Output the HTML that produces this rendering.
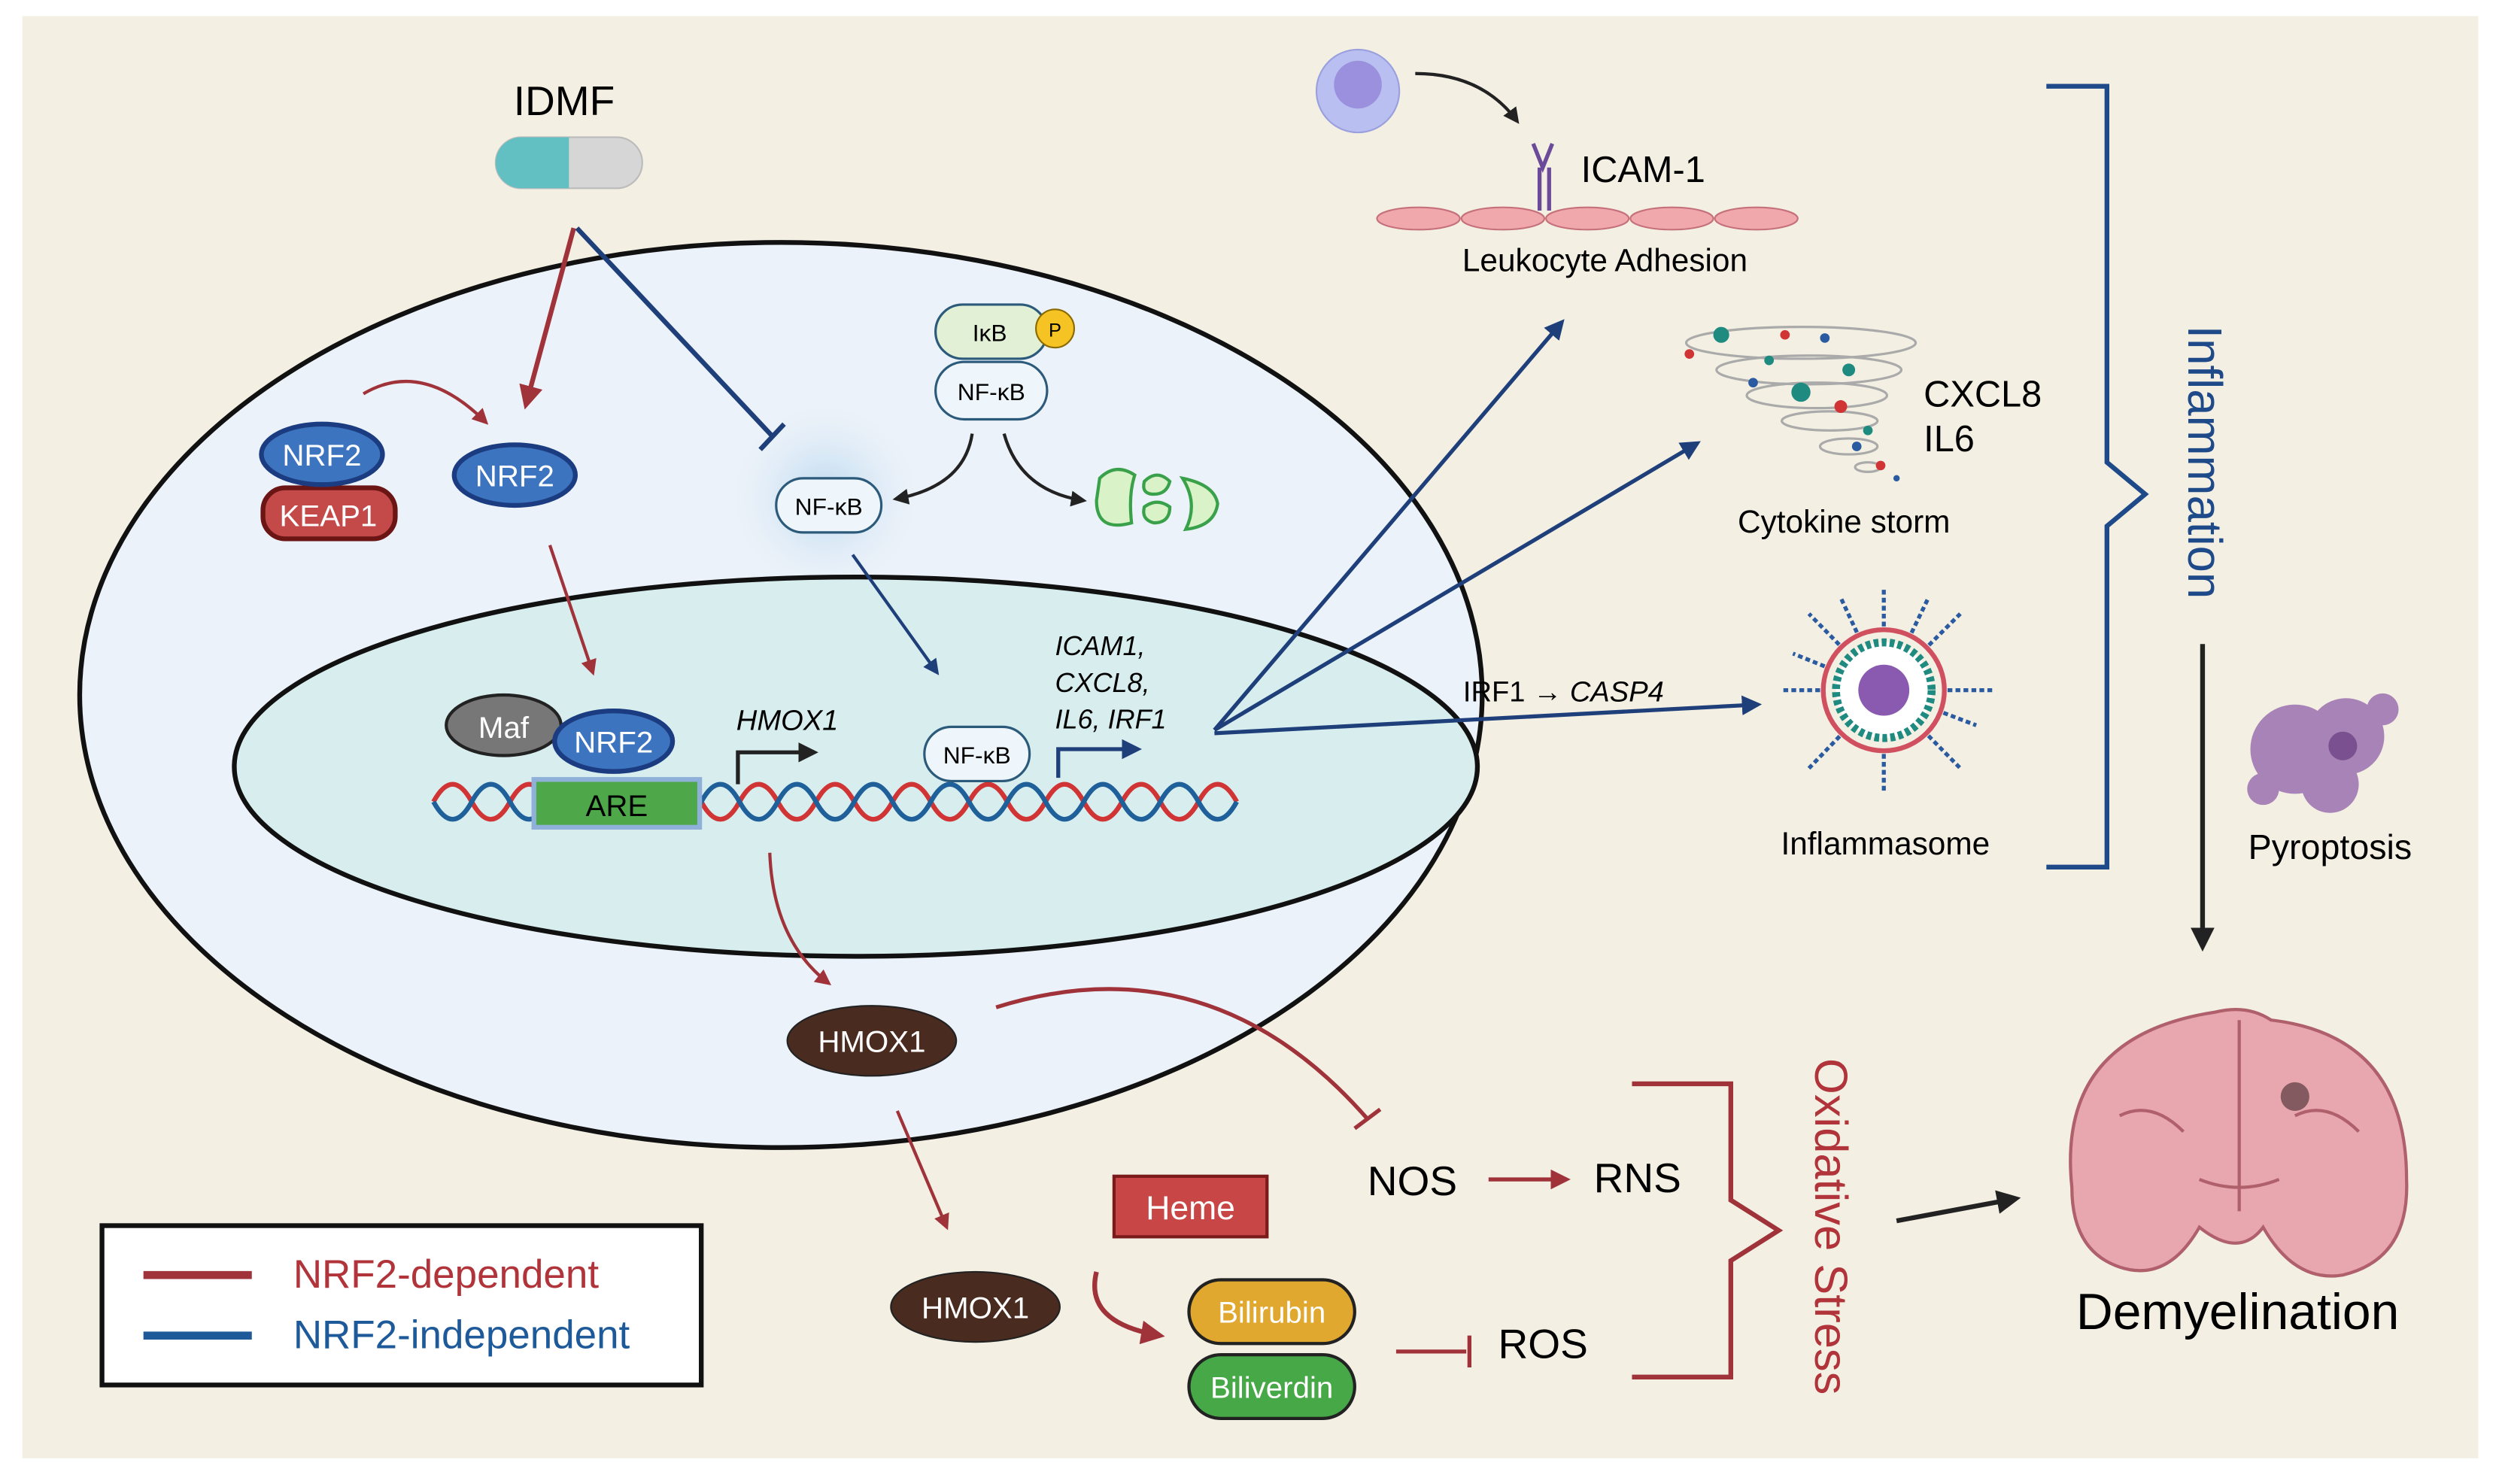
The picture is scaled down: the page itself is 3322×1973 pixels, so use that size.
<!DOCTYPE html>
<html><head><meta charset="utf-8"><style>
html,body{margin:0;padding:0;background:#fff}
svg{display:block}
text{font-family:"Liberation Sans",sans-serif}
</style></head><body>
<svg width="3322" height="1973" viewBox="0 0 1568 931" xmlns="http://www.w3.org/2000/svg">
<defs>
<marker id="ar" viewBox="0 0 10 10" refX="8" refY="5" markerWidth="5" markerHeight="5" orient="auto"><path d="M0,0L10,5L0,10z" fill="#a0333a"/></marker>
<marker id="ab" viewBox="0 0 10 10" refX="8" refY="5" markerWidth="5" markerHeight="5" orient="auto"><path d="M0,0L10,5L0,10z" fill="#1e3f7a"/></marker>
<marker id="ak" viewBox="0 0 10 10" refX="8" refY="5" markerWidth="5" markerHeight="5" orient="auto"><path d="M0,0L10,5L0,10z" fill="#222"/></marker>
<radialGradient id="glow"><stop offset="0" stop-color="#b8d7ef"/><stop offset="1" stop-color="#eaf2fa" stop-opacity="0"/></radialGradient>
</defs>
<rect x="14" y="10" width="1541" height="905" fill="#f3efe3"/>
<ellipse cx="490" cy="436" rx="440" ry="284" fill="#ecf2f9" stroke="#111" stroke-width="3"/>
<circle cx="518" cy="312" r="65" fill="url(#glow)"/>
<ellipse cx="537" cy="481" rx="390" ry="119" fill="#d8eeee" stroke="#111" stroke-width="3"/>
<text x="354" y="72" font-size="26" text-anchor="middle">IDMF</text>
<rect x="311" y="86" width="92" height="32" rx="16" fill="#d6d6d6" stroke="#bbb"/>
<path d="M357,86h-30a16,16 0 0 0 0,32h30z" fill="#63c0c2"/>
<line x1="360" y1="143" x2="330" y2="254" stroke="#a0333a" stroke-width="3" marker-end="url(#ar)"/>
<line x1="362" y1="143" x2="485" y2="274" stroke="#1e3f7a" stroke-width="3"/>
<line x1="477" y1="282" x2="492" y2="266" stroke="#1e3f7a" stroke-width="3"/>
<path d="M228,247 Q265,225 305,265" fill="none" stroke="#a0333a" stroke-width="2" marker-end="url(#ar)"/>
<rect x="165" y="306" width="83" height="32" rx="14" fill="#c44a4a" stroke="#6b1515" stroke-width="3"/>
<text x="206" y="330" font-size="19" fill="#fff" text-anchor="middle">KEAP1</text>
<ellipse cx="202" cy="285" rx="38" ry="19" fill="#3d74bf" stroke="#1b3c80" stroke-width="3"/>
<text x="202" y="292" font-size="19" fill="#fff" text-anchor="middle">NRF2</text>
<ellipse cx="323" cy="298" rx="38" ry="19" fill="#3d74bf" stroke="#1b3c80" stroke-width="3"/>
<text x="323" y="305" font-size="19" fill="#fff" text-anchor="middle">NRF2</text>
<line x1="345" y1="342" x2="372" y2="422" stroke="#a0333a" stroke-width="2" marker-end="url(#ar)"/>
<rect x="587" y="191" width="70" height="34" rx="17" fill="#e2f0d6" stroke="#2c5a7a" stroke-width="1.5"/>
<text x="621" y="214" font-size="15" text-anchor="middle">IκB</text>
<circle cx="662" cy="206" r="12" fill="#f6c324" stroke="#8a6a00"/>
<text x="662" y="211" font-size="12" text-anchor="middle">P</text>
<rect x="587" y="227" width="70" height="36" rx="18" fill="#eef5fb" stroke="#2c5a7a" stroke-width="1.5"/>
<text x="622" y="251" font-size="15" text-anchor="middle">NF-κB</text>
<path d="M610,272 Q605,305 562,313" fill="none" stroke="#222" stroke-width="2" marker-end="url(#ak)"/>
<path d="M630,272 Q640,308 680,314" fill="none" stroke="#222" stroke-width="2" marker-end="url(#ak)"/>
<path d="M690,300 q10,-10 22,-2 q-4,12 -2,30 q-22,6 -22,-14z M718,302 q8,-8 16,0 q-2,8 -10,8 q-8,0 -6,-8z M718,318 q8,-6 16,0 q0,10 -10,10 q-8,-2 -6,-10z M742,300 q20,4 22,16 q-2,14 -20,16 q8,-16 -2,-32z" fill="#d9f2c8" stroke="#3aa14b" stroke-width="2"/>
<rect x="487" y="300" width="66" height="34" rx="17" fill="#eef5fb" stroke="#2c5a7a" stroke-width="1.5"/>
<text x="520" y="323" font-size="15" text-anchor="middle">NF-κB</text>
<line x1="535" y1="348" x2="588" y2="422" stroke="#1e3f7a" stroke-width="2" marker-end="url(#ab)"/>
<g fill="none" stroke-width="3">
<path d="M272,503 q12,-22 24,0 t24,0 t24,0 t24,0 t24,0 t24,0 t24,0 t24,0 t24,0 t24,0 t24,0 t24,0 t24,0 t24,0 t24,0 t24,0 t24,0 t24,0 t24,0 t24,0 t24,0" stroke="#d03434"/>
<path d="M272,503 q12,22 24,0 t24,0 t24,0 t24,0 t24,0 t24,0 t24,0 t24,0 t24,0 t24,0 t24,0 t24,0 t24,0 t24,0 t24,0 t24,0 t24,0 t24,0 t24,0 t24,0 t24,0" stroke="#1f5f9a"/>
</g>
<rect x="335" y="489" width="104" height="30" fill="#4ea84a" stroke="#8fb0d8" stroke-width="3"/>
<text x="387" y="512" font-size="19" text-anchor="middle">ARE</text>
<ellipse cx="316" cy="455" rx="36" ry="19" fill="#777" stroke="#222" stroke-width="2"/>
<text x="316" y="463" font-size="19" fill="#fff" text-anchor="middle">Maf</text>
<ellipse cx="385" cy="465" rx="37" ry="19" fill="#3d74bf" stroke="#1b3c80" stroke-width="3"/>
<text x="385" y="472" font-size="19" fill="#fff" text-anchor="middle">NRF2</text>
<path d="M463,492v-20h48" fill="none" stroke="#222" stroke-width="2.5" marker-end="url(#ak)"/>
<text x="462" y="458" font-size="18" font-style="italic">HMOX1</text>
<rect x="580" y="456" width="66" height="34" rx="17" fill="#eef5fb" stroke="#2c5a7a" stroke-width="1.5"/>
<text x="613" y="479" font-size="15" text-anchor="middle">NF-κB</text>
<path d="M664,488v-18h50" fill="none" stroke="#1e3f7a" stroke-width="2.5" marker-end="url(#ab)"/>
<text x="662" y="411" font-size="17" font-style="italic">ICAM1,</text>
<text x="662" y="434" font-size="17" font-style="italic">CXCL8,</text>
<text x="662" y="457" font-size="17" font-style="italic">IL6, IRF1</text>
<g stroke="#1e3f7a" stroke-width="2.5">
<line x1="762" y1="458" x2="980" y2="202" marker-end="url(#ab)"/>
<line x1="762" y1="458" x2="1065" y2="278" marker-end="url(#ab)"/>
<line x1="762" y1="460" x2="1103" y2="442" marker-end="url(#ab)"/>
</g>
<text x="918" y="440" font-size="18">IRF1 → <tspan font-style="italic">CASP4</tspan></text>
<path d="M483,535 Q485,590 520,617" fill="none" stroke="#a0333a" stroke-width="2" marker-end="url(#ar)"/>
<ellipse cx="547" cy="653" rx="53" ry="22" fill="#4a2b20" stroke="#222"/>
<text x="547" y="660" font-size="19" fill="#fff" text-anchor="middle">HMOX1</text>
<path d="M625,632 Q760,590 858,702" fill="none" stroke="#a0333a" stroke-width="2.5"/>
<line x1="850" y1="708" x2="866" y2="696" stroke="#a0333a" stroke-width="2.5"/>
<line x1="563" y1="697" x2="594" y2="770" stroke="#a0333a" stroke-width="2" marker-end="url(#ar)"/>
<ellipse cx="612" cy="820" rx="53" ry="22" fill="#4a2b20" stroke="#222"/>
<text x="612" y="827" font-size="19" fill="#fff" text-anchor="middle">HMOX1</text>
<rect x="699" y="738" width="96" height="38" fill="#c94646" stroke="#7a1a1a" stroke-width="2"/>
<text x="747" y="765" font-size="21" fill="#fff" text-anchor="middle">Heme</text>
<path d="M688,798 Q680,830 728,838" fill="none" stroke="#a0333a" stroke-width="3" marker-end="url(#ar)"/>
<rect x="746" y="803" width="104" height="40" rx="20" fill="#e0a82e" stroke="#222" stroke-width="2"/>
<text x="798" y="830" font-size="19" fill="#fff" text-anchor="middle">Bilirubin</text>
<rect x="746" y="850" width="104" height="40" rx="20" fill="#47a847" stroke="#222" stroke-width="2"/>
<text x="798" y="877" font-size="19" fill="#fff" text-anchor="middle">Biliverdin</text>
<line x1="876" y1="848" x2="920" y2="848" stroke="#a0333a" stroke-width="2.5"/>
<line x1="922" y1="838" x2="922" y2="858" stroke="#a0333a" stroke-width="2.5"/>
<text x="940" y="852" font-size="26">ROS</text>
<text x="858" y="750" font-size="26">NOS</text>
<line x1="934" y1="740" x2="983" y2="740" stroke="#a0333a" stroke-width="2.5" marker-end="url(#ar)"/>
<text x="1000" y="748" font-size="26">RNS</text>
<path d="M1024,680H1086V753L1116,772L1086,791V864H1024" fill="none" stroke="#a0333a" stroke-width="3"/>
<text transform="translate(1139,664) rotate(90)" font-size="29" fill="#b0343a">Oxidative Stress</text>
<line x1="1190" y1="766" x2="1265" y2="752" stroke="#222" stroke-width="3" marker-end="url(#ak)"/>
<rect x="64" y="769" width="376" height="100" fill="#fff" stroke="#111" stroke-width="3"/>
<line x1="90" y1="800" x2="158" y2="800" stroke="#a0333a" stroke-width="5"/>
<text x="184" y="808" font-size="25" fill="#b0343a">NRF2-dependent</text>
<line x1="90" y1="838" x2="158" y2="838" stroke="#1e5a9a" stroke-width="5"/>
<text x="184" y="846" font-size="25" fill="#1e5a9a">NRF2-independent</text>
<circle cx="852" cy="57" r="26" fill="#b9bff0" stroke="#9aa0dd"/>
<circle cx="852" cy="53" r="15" fill="#9b90dd"/>
<path d="M888,46 Q930,46 952,76" fill="none" stroke="#222" stroke-width="2" marker-end="url(#ak)"/>
<g fill="#f0a8ad" stroke="#c5707a">
<ellipse cx="890" cy="137" rx="26" ry="7"/><ellipse cx="943" cy="137" rx="26" ry="7"/><ellipse cx="996" cy="137" rx="26" ry="7"/><ellipse cx="1049" cy="137" rx="26" ry="7"/><ellipse cx="1102" cy="137" rx="26" ry="7"/>
</g>
<path d="M966,132V105M972,132V105M962,90l6,15l6,-15" fill="none" stroke="#6b4a9a" stroke-width="2.5"/>
<text x="992" y="114" font-size="23">ICAM-1</text>
<text x="1007" y="170" font-size="20" text-anchor="middle">Leukocyte Adhesion</text>
<g fill="none" stroke="#aaa" stroke-width="1.5">
<ellipse cx="1130" cy="215" rx="72" ry="10"/><ellipse cx="1135" cy="232" rx="58" ry="9"/><ellipse cx="1140" cy="248" rx="44" ry="8"/><ellipse cx="1148" cy="264" rx="30" ry="6"/><ellipse cx="1160" cy="280" rx="18" ry="5"/><ellipse cx="1172" cy="293" rx="8" ry="3"/>
</g>
<g fill="#1f8a80"><circle cx="1080" cy="210" r="5"/><circle cx="1130" cy="246" r="6"/><circle cx="1160" cy="232" r="4"/><circle cx="1110" cy="226" r="3"/><circle cx="1172" cy="270" r="3"/></g>
<g fill="#d03434"><circle cx="1120" cy="210" r="3"/><circle cx="1155" cy="255" r="4"/><circle cx="1060" cy="222" r="3"/><circle cx="1180" cy="292" r="3"/></g>
<g fill="#2a5aa0"><circle cx="1100" cy="240" r="3"/><circle cx="1145" cy="212" r="3"/><circle cx="1165" cy="280" r="3"/><circle cx="1190" cy="300" r="2"/></g>
<text x="1207" y="255" font-size="23">CXCL8</text>
<text x="1207" y="283" font-size="23">IL6</text>
<text x="1157" y="334" font-size="20" text-anchor="middle">Cytokine storm</text>
<g stroke="#2a5aa0" stroke-width="2.5" stroke-dasharray="3 2">
<line x1="1182" y1="433" x2="1182" y2="368"/><line x1="1182" y1="433" x2="1182" y2="498"/><line x1="1182" y1="433" x2="1117" y2="433"/><line x1="1182" y1="433" x2="1250" y2="433"/>
<line x1="1182" y1="433" x2="1135" y2="385"/><line x1="1182" y1="433" x2="1230" y2="385"/><line x1="1182" y1="433" x2="1135" y2="482"/><line x1="1182" y1="433" x2="1230" y2="482"/>
<line x1="1182" y1="433" x2="1155" y2="375"/><line x1="1182" y1="433" x2="1210" y2="375"/><line x1="1182" y1="433" x2="1125" y2="410"/><line x1="1182" y1="433" x2="1240" y2="455"/>
</g>
<circle cx="1182" cy="433" r="38" fill="#f3efe3" stroke="#d05060" stroke-width="3"/>
<circle cx="1182" cy="433" r="30" fill="#fff" stroke="#1f8a80" stroke-width="5" stroke-dasharray="3 2"/>
<circle cx="1182" cy="433" r="16" fill="#8a5ab0"/>
<text x="1183" y="536" font-size="20" text-anchor="middle">Inflammasome</text>
<path d="M1284,54H1322V290L1346,310L1322,330V544H1284" fill="none" stroke="#1e4a8a" stroke-width="3"/>
<text transform="translate(1373,204) rotate(90)" font-size="30" fill="#1e4a8a">Inflammation</text>
<line x1="1382" y1="404" x2="1382" y2="594" stroke="#222" stroke-width="3" marker-end="url(#ak)"/>
<g fill="#a883b8"><circle cx="1440" cy="470" r="28"/><circle cx="1472" cy="462" r="24"/><circle cx="1462" cy="492" r="18"/><circle cx="1495" cy="445" r="10"/><circle cx="1420" cy="495" r="10"/></g>
<circle cx="1470" cy="468" r="9" fill="#7a5090"/>
<text x="1462" y="539" font-size="22" text-anchor="middle">Pyroptosis</text>
<path d="M1300,745 Q1290,650 1390,635 Q1410,630 1425,640 Q1510,650 1510,740 Q1512,790 1470,800 Q1440,805 1420,770 Q1405,790 1380,770 Q1360,805 1330,795 Q1300,785 1300,745z" fill="#e8a6ae" stroke="#b0606a" stroke-width="2"/>
<path d="M1405,640V760M1330,700q20,-10 40,10M1440,700q20,-10 40,10M1380,740q25,10 50,0" fill="none" stroke="#b0606a" stroke-width="2"/>
<circle cx="1440" cy="688" r="9" fill="#5a3a40" opacity="0.7"/>
<text x="1404" y="834" font-size="32" text-anchor="middle">Demyelination</text>
</svg>
</body></html>
